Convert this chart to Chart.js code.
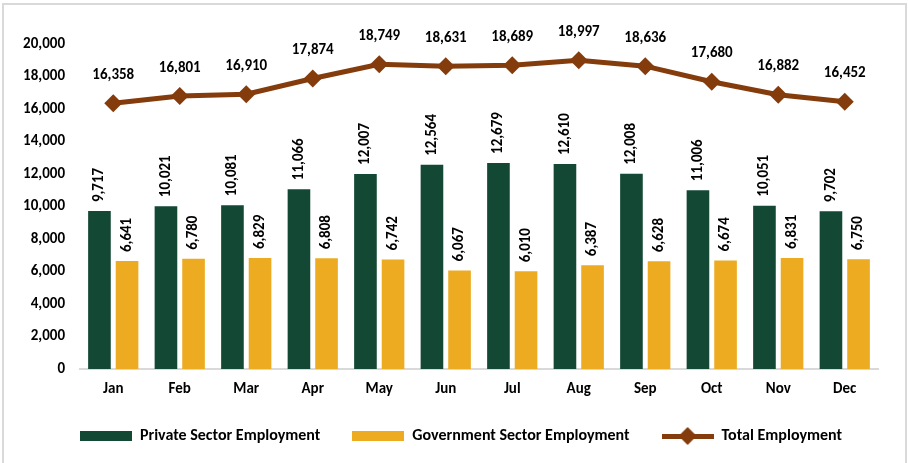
<!DOCTYPE html>
<html>
<head>
<meta charset="utf-8">
<script src="https://cdn.jsdelivr.net/npm/chart.js@4.4.1/dist/chart.umd.min.js"></script>
<style>
  html, body { margin: 0; padding: 0; background: #fff; }
  .frame { position: absolute; left: 2px; top: 3px; width: 905px; height: 475px; border: 2px solid #d9d9d9; box-sizing: border-box; }
  .wrap { position: absolute; left: 0; top: 0; width: 908px; height: 463px; }
</style>
</head>
<body>
<div class="frame"></div>
<div class="wrap"><canvas id="employmentChart" width="908" height="463"></canvas></div>
<script>
const months = ["Jan", "Feb", "Mar", "Apr", "May", "Jun", "Jul", "Aug", "Sep", "Oct", "Nov", "Dec"];
const privateSector = [9717, 10021, 10081, 11066, 12007, 12564, 12679, 12610, 12008, 11006, 10051, 9702];
const governmentSector = [6641, 6780, 6829, 6808, 6742, 6067, 6010, 6387, 6628, 6674, 6831, 6750];
const totalEmployment = [16358, 16801, 16910, 17874, 18749, 18631, 18689, 18997, 18636, 17680, 16882, 16452];
const yMax = 20000;
const yStep = 2000;

const GREEN = "#134834";
const GOLD = "#EDAB22";
const BROWN = "#843C0C";
const FONT = "Carlito, Calibri, Lato, sans-serif";

// legend swatches: wide boxes for the bars, line + diamond for the total
function swatch(kind, color) {
    const c = document.createElement("canvas");
    c.width = 52;
    c.height = kind === "line" ? 18 : 10;
    const g = c.getContext("2d");
    g.fillStyle = color;
    if (kind === "line") {
        g.fillRect(0, 7, 52, 5);
        g.beginPath();
        g.moveTo(26, 0); g.lineTo(35, 9); g.lineTo(26, 18); g.lineTo(17, 9);
        g.closePath();
        g.fill();
    } else {
        g.fillRect(0, 0, 52, 10);
    }
    return c;
}
const legendIcons = [swatch("bar", GREEN), swatch("bar", GOLD), swatch("line", BROWN)];

// numbers above points and bars
const valueLabels = {
    id: "valueLabels",
    afterDatasetsDraw(chart) {
        const ctx = chart.ctx;
        ctx.save();
        ctx.font = "bold 15px " + FONT;
        ctx.fillStyle = "#000";
        chart.data.datasets.forEach((ds, i) => {
            const meta = chart.getDatasetMeta(i);
            meta.data.forEach((el, j) => {
                const text = ds.data[j].toLocaleString("en-US");
                if (ds.type === "line") {
                    ctx.textAlign = "center";
                    ctx.textBaseline = "middle";
                    ctx.fillText(text, el.x, el.y - 28);
                } else {
                    ctx.save();
                    ctx.translate(el.x, el.y - 9);
                    ctx.rotate(-Math.PI / 2);
                    ctx.textAlign = "left";
                    ctx.textBaseline = "middle";
                    ctx.fillText(text, 0, 0);
                    ctx.restore();
                }
            });
        });
        ctx.restore();
    }
};

// centre the legend under the whole frame rather than the padded box
const legendShift = {
    id: "legendShift",
    afterLayout(chart) {
        chart.legend.left += 22;
        chart.legend.right += 22;
    }
};

const ctx = document.getElementById("employmentChart").getContext("2d");
new Chart(ctx, {
    data: {
        labels: months,
        datasets: [{
            type: "bar",
            label: "Private Sector Employment",
            data: privateSector,
            backgroundColor: GREEN,
            categoryPercentage: 0.83,
            barPercentage: 0.82
        }, {
            type: "bar",
            label: "Government Sector Employment",
            data: governmentSector,
            backgroundColor: GOLD,
            categoryPercentage: 0.83,
            barPercentage: 0.82
        }, {
            type: "line",
            label: "Total Employment",
            data: totalEmployment,
            borderColor: BROWN,
            backgroundColor: BROWN,
            borderWidth: 5,
            pointStyle: "rectRot",
            pointRadius: 9,
            pointBorderWidth: 0,
            tension: 0
        }]
    },
    options: {
        responsive: false,
        animation: false,
        events: [],
        layout: { padding: { top: 44, right: 30, left: 0, bottom: 9 } },
        scales: {
            x: {
                grid: { display: false, drawTicks: false },
                border: { display: true, color: "#d9d9d9", width: 2 },
                ticks: { color: "#000", font: { family: FONT, size: 15, weight: "bold" }, padding: 11 },
                afterFit: (scale) => { scale.height = 27; }
            },
            y: {
                min: 0,
                max: yMax,
                grid: { display: false, drawTicks: false },
                border: { display: false },
                ticks: {
                    stepSize: yStep,
                    color: "#000",
                    padding: 15,
                    font: { family: FONT, size: 15, weight: "bold" },
                    callback: (v) => v.toLocaleString("en-US")
                },
                afterFit: (scale) => { scale.width = 80; }
            }
        },
        plugins: {
            tooltip: { enabled: false },
            legend: {
                position: "bottom",
                labels: {
                    usePointStyle: true,
                    pointStyleWidth: 52,
                    padding: 32,
                    color: "#000",
                    font: { family: FONT, size: 16, weight: "bold" },
                    generateLabels(chart) {
                        const items = Chart.defaults.plugins.legend.labels.generateLabels(chart);
                        items.forEach((item) => { item.pointStyle = legendIcons[item.datasetIndex]; });
                        return items;
                    }
                }
            }
        }
    },
    plugins: [valueLabels, legendShift]
});
</script>
</body>
</html>
